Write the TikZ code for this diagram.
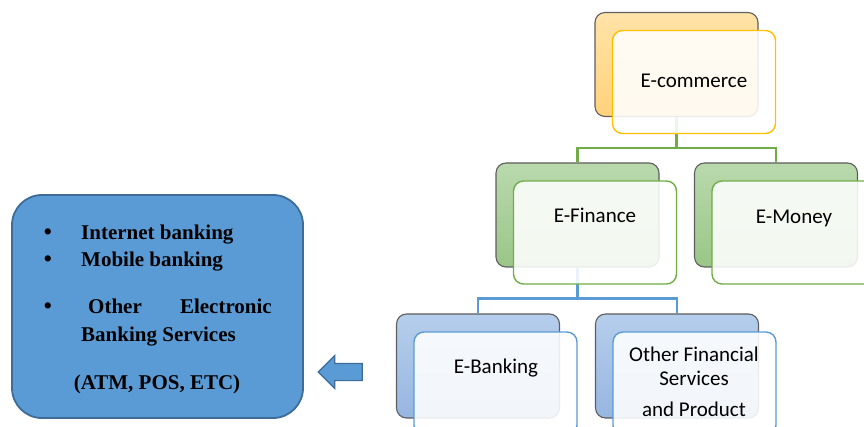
\documentclass[tikz,border=0pt]{standalone}
\usepackage{fontspec}
\setmainfont{Liberation Serif}
\newfontfamily\calib{Carlito}
\usetikzlibrary{shapes.arrows}
\definecolor{orTop}{HTML}{FFE3A8}
\definecolor{orBot}{HTML}{FFD27C}
\definecolor{grTop}{HTML}{B9D9AD}
\definecolor{grBot}{HTML}{9AC687}
\definecolor{blTop}{HTML}{B6CEEC}
\definecolor{blBot}{HTML}{97B6E0}
\definecolor{backedge}{HTML}{5E5E5E}
\definecolor{gold}{HTML}{FFC000}
\definecolor{grn}{HTML}{70AD47}
\definecolor{blu}{HTML}{5B9BD5}
\definecolor{bigfill}{HTML}{5B9BD5}
\definecolor{bigedge}{HTML}{3E6C99}
\begin{document}
\begin{tikzpicture}[x=1pt,y=-1pt,
  backbox/.style={rectangle, rounded corners=10pt, minimum width=163pt, minimum height=104pt, draw=backedge, line width=1.1pt, inner sep=0pt},
  frontbox/.style={rectangle, rounded corners=10pt, minimum width=163pt, minimum height=103pt, fill=white, fill opacity=0.88, line width=1.4pt, inner sep=0pt},
  treelbl/.style={font=\calib\fontsize{21}{25}\selectfont, inner sep=0pt, anchor=base},
  listtxt/.style={font=\bfseries\fontsize{21}{25}\selectfont, inner sep=0pt, anchor=base west},
  bul/.style={font=\bfseries\fontsize{23}{25}\selectfont, inner sep=0pt, anchor=base},
  gline/.style={draw=grn, line width=2.7pt},
  bline/.style={draw=blu, line width=2.7pt}]
\useasboundingbox (0,0) rectangle (864,427);
\clip (0,0) rectangle (864,427);

% back boxes
\node[backbox, top color=orTop, bottom color=orBot] (ecb) at (676.5,64.5) {};
\node[backbox, top color=grTop, bottom color=grBot] (efb) at (577.5,215) {};
\node[backbox, top color=grTop, bottom color=grBot] (emb) at (776,215) {};
\node[backbox, top color=blTop, bottom color=blBot] (ebb) at (478,366) {};
\node[backbox, top color=blTop, bottom color=blBot] (ofb) at (677,366) {};

% connectors
\draw[gline] (ecb.south) -- ++(0,31) -| (efb.north);
\draw[gline] (ecb.south) -- ++(0,31) -| (emb.north);
\draw[bline] (efb.south) -- ++(0,31) -| (ebb.north);
\draw[bline] (efb.south) -- ++(0,31) -| (ofb.north);

% front boxes
\node[frontbox, draw=gold] (ecf) at (694,82) {};
\node[frontbox, draw=grn] (eff) at (595,232.5) {};
\node[frontbox, draw=grn] (emf) at (793.5,232.5) {};
\node[frontbox, draw=blu] (ebf) at (495.5,383.5) {};
\node[frontbox, draw=blu] (off) at (694.5,383.5) {};

% labels
\node[treelbl] (ect) at (694,88) {E-commerce};
\node[treelbl] (eft) at (595,222.5) {E-Finance};
\node[treelbl] (emt) at (794,223.5) {E-Money};
\node[treelbl] (ebt) at (496,373) {E-Banking};
\node[treelbl] (oft1) at (694,361.5) {Other Financial};
\node[treelbl] (oft2) at (694,385) {Services};
\node[treelbl] (oft3) at (694,416.5) {and Product};

% left box
\node[rectangle, rounded corners=30pt, minimum width=291pt, minimum height=223pt, fill=bigfill, draw=bigedge, line width=1.8pt, inner sep=0pt] (lb) at (157.5,306.5) {};
\node[bul] (b1) at (48,240) {\textbullet};
\node[bul] (b2) at (48,266.5) {\textbullet};
\node[bul] (b3) at (48,314) {\textbullet};
\node[listtxt] (t1) at (81,240) {Internet banking};
\node[listtxt] (t2) at (81,266.5) {Mobile banking};
\node[listtxt] (t3a) at (88,314) {Other};
\node[listtxt, anchor=base east] (t3b) at (272,314) {Electronic};
\node[listtxt] (t4) at (81,341.5) {Banking Services};
\node[listtxt, anchor=base] (t5) at (157,389) {(ATM, POS, ETC)};

% block arrow
\node[single arrow, shape border rotate=180, minimum height=44pt, single arrow head extend=8pt, single arrow head indent=0pt, inner xsep=0pt, inner ysep=8pt, fill=bigfill, draw=bigedge, line width=1.2pt] (arr) at (344.5,372) {};
\end{tikzpicture}
\end{document}
